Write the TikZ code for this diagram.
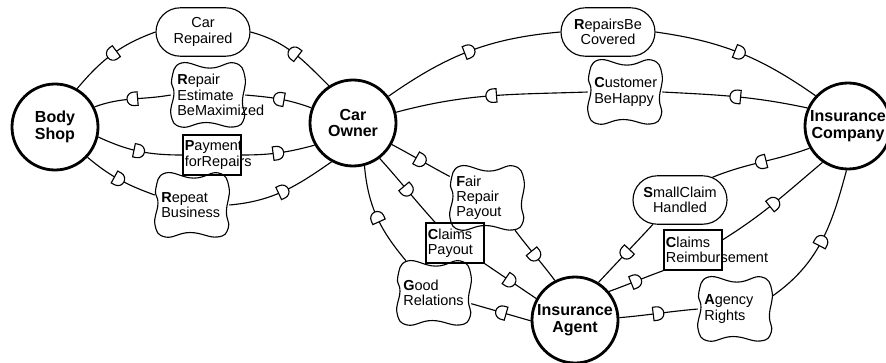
\documentclass[tikz,border=0pt]{standalone}
\usepackage{fontspec}
\setmainfont{Liberation Sans}
\usetikzlibrary{shapes.misc, decorations.markings}
\tikzstyle{actor}=[circle, draw, line width=2pt, inner sep=0pt, minimum size=2.15cm, align=center, font=\fontsize{11.4}{12}\selectfont\bfseries]
\tikzstyle{goal}=[rounded rectangle, draw, line width=0.8pt, inner sep=0pt, minimum width=2.35cm, minimum height=1.21cm]
\tikzstyle{softgoal}=[rectangle, inner sep=0pt, minimum width=1.85cm, minimum height=1.6cm]
\tikzstyle{resource}=[rectangle, draw, line width=0.8pt, inner sep=0pt, minimum width=1.45cm, minimum height=1cm]
\tikzstyle{gtxt}=[font=\fontsize{10.3}{10.8}\selectfont, align=center, anchor=center, inner sep=0pt]
\tikzstyle{stxt}=[font=\fontsize{10.3}{10.8}\selectfont, align=left, anchor=west, inner sep=1.5pt, label distance=-3pt]
\tikzstyle{rtxt}=[font=\fontsize{10.3}{10.8}\selectfont, align=left, anchor=west, inner sep=1.5pt, label distance=0pt]
\tikzstyle{link}=[line width=0.8pt]
\tikzset{dep/.style={decoration={markings, mark=at position 0.5 with {\draw[xscale=#1, fill=white, line width=0.8pt] (-3.8pt,-4.8pt) -- (-1pt,-4.8pt) arc[start angle=-90, end angle=90, radius=4.8pt] -- (-3.8pt,4.8pt) -- cycle;}}, postaction={decorate}}, dep/.default=1}
\newcommand{\actor}{\node[actor]}
\newcommand{\goal}{\node[goal]}
\newcommand{\softgoal}{\node[softgoal]}
\newcommand{\resource}{\node[resource]}
\newcommand{\cloudline}[1]{\draw[line width=0.8pt, shift={(#1.center)}, x=0.925cm, y=0.8cm] plot[smooth cycle, tension=0.8] coordinates {(-0.98,0.5) (-0.72,1.0) (0.05,0.84) (0.72,1.0) (1.0,0.55) (0.93,-0.2) (0.98,-0.72) (0.68,-1.0) (-0.05,-0.86) (-0.72,-1.0) (-1.0,-0.62) (-0.92,0.05)};}

\begin{document}
\begin{tikzpicture}
\useasboundingbox (0,0) rectangle (22.15,9.05);
% actors
\actor (bs) at (1.375,5.875) {Body\\Shop};
\actor (co) at (8.825,5.975) {Car\\Owner};
\actor (ic) at (21.2,5.9) {Insurance\\Company};
\actor (ia) at (14.375,1.05) {Insurance\\Agent};
% dependums
\goal[label={[gtxt]center:{Car\\Repaired}}] (cr) at (5.075,8.25) {};
\softgoal[label={[stxt]west:{\textbf{R}epair\\Estimate\\BeMaximized}}] (rem) at (5.2,6.675) {};
\resource[label={[rtxt]west:{\textbf{P}ayment\\forRepairs}}] (pfr) at (5.3,5.175) {};
\softgoal[label={[stxt]west:{\textbf{R}epeat\\Business}}] (rb) at (4.8,3.925) {};
\goal[label={[gtxt]center:{\textbf{R}epairsBe\\Covered}}] (rbc) at (15.2,8.25) {};
\softgoal[label={[stxt]west:{\textbf{C}ustomer\\BeHappy}}] (cbh) at (15.625,6.75) {};
\softgoal[label={[stxt]west:{\textbf{F}air\\Repair\\Payout}}] (frp) at (12.175,4.1) {};
\resource[label={[rtxt]west:{\textbf{C}laims\\Payout}}] (cp) at (11.375,2.975) {};
\softgoal[label={[stxt]west:{\textbf{G}ood\\Relations}}] (gr) at (10.85,1.725) {};
\goal[label={[gtxt]center:{\textbf{S}mallClaim\\Handled}}] (sch) at (17.0,4.05) {};
\resource[label={[rtxt]west:{\textbf{C}laims\\Reimbursement}}] (crb) at (17.325,2.8) {};
\softgoal[label={[stxt]west:{\textbf{A}gency\\Rights}}] (ar) at (18.375,1.325) {};
\foreach \n in {rem,rb,cbh,frp,gr,ar} \cloudline{\n};
% dependencies
\draw[link, dep=-1] (bs.60) to[out=50,in=200] (cr.west);
\draw[link, dep=-1] (cr.east) to[out=-15,in=135] (co.123);
\draw[link, dep=-1] (bs.27) to[out=20,in=190] (rem.west);
\draw[link, dep=-1] (rem.east) to[out=-5,in=160] (co.160);
\draw[link, dep] (bs.-13) to[out=-25,in=180] (pfr.west);
\draw[link, dep] (pfr.east) to[out=0,in=195] (co.210);
\draw[link, dep] (bs.-43) to[out=-40,in=160] (rb.165);
\draw[link, dep] (rb.east) to[out=5,in=215] (co.241);
\draw[link, dep] (co.37) to[out=35,in=185] (rbc.west);
\draw[link, dep] (rbc.east) to[out=-8,in=145] (ic.137);
\draw[link, dep=-1] (co.14) to[out=15,in=182] (cbh.west);
\draw[link, dep=-1] (cbh.east) to[out=-3,in=168] (ic.156);
\draw[link, dep] (co.-29) to[out=-28,in=152] (frp.150);
\draw[link, dep] (frp.-49) to[out=-53,in=127] (ia.117);
\draw[link, dep] (co.-53) to[out=-48,in=132] (cp.134);
\draw[link, dep] (cp.south east) to[out=-34,in=146] (ia.151);
\draw[link, dep=-1] (co.-75) to[out=-85,in=130] (gr.131);
\draw[link, dep=-1] (gr.-16) to[out=-16,in=164] (ia.181);
\draw[link, dep=-1] (ia.58) to[out=47,in=227] (sch.222);
\draw[link, dep=-1] (sch.35) to[out=22,in=200] (ic.210);
\draw[link, dep] (ia.40) to[out=20,in=200] (crb.south west);
\draw[link, dep] (crb.19) to[out=32,in=220] (ic.235);
\draw[link, dep] (ia.3) to[out=5,in=185] (ar.west);
\draw[link, dep] (ar.19) to[out=35,in=255] (ic.268);
\end{tikzpicture}
\end{document}
